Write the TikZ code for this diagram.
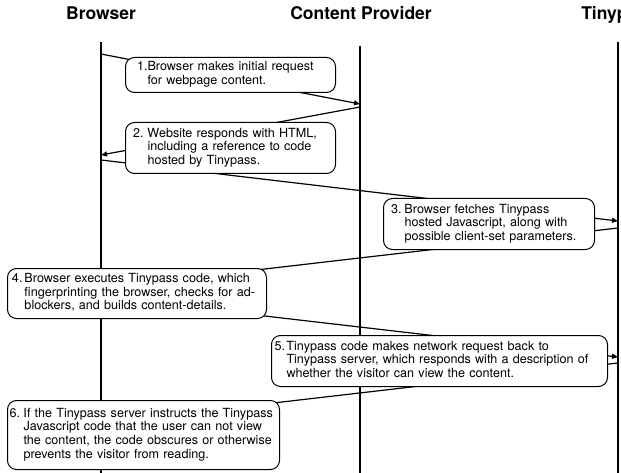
\documentclass[tikz,border=0pt]{standalone}
\usepackage{fontspec}
\setmainfont{TeX Gyre Heros}
\usetikzlibrary{arrows.meta}
\begin{document}
\begin{tikzpicture}[x=1pt,y=-1pt,
  lifeline/.style={line width=1.2pt},
  msg/.style={line width=1.2pt},
  msgarrow/.style={msg,-{Triangle[length=6pt,width=5pt]}},
  title/.style={font=\fontsize{17.5}{20}\selectfont\bfseries, anchor=base, inner sep=0pt},
  note/.style={draw, line width=1pt, rounded corners=9pt, fill=white, align=left,
    font=\fontsize{12.6}{13.6}\selectfont, inner ysep=0pt, anchor=north west}
]
\useasboundingbox (0,0) rectangle (621,473);

% titles
\node[title] (tb) at (101,20) {Browser};
\node[title] (tc) at (361,20) {Content Provider};
\node[title] (tt) at (619,20) {Tinypass};

% lifelines
\coordinate (b0) at (101,42);  \coordinate (b1) at (101,473);
\coordinate (c0) at (360,46);  \coordinate (c1) at (360,473);
\coordinate (t0) at (618,42);  \coordinate (t1) at (618,473);
\draw[lifeline] (b0) -- (b1);
\draw[lifeline] (c0) -- (c1);
\draw[lifeline] (t0) -- (t1);

% message end points
\coordinate (m1s) at (101,54);  \coordinate (m1e) at (360,104);
\coordinate (m2s) at (360,107); \coordinate (m2e) at (101,155);
\coordinate (m3s) at (101,160); \coordinate (m3e) at (618,221);
\coordinate (m4s) at (618,228); \coordinate (m4e) at (101,288);
\coordinate (m5s) at (101,297); \coordinate (m5e) at (618,357);
\coordinate (m6s) at (618,363); \coordinate (m6e) at (101,423);

\draw[msgarrow] (m1s) -- (m1e);
\draw[msgarrow] (m2s) -- (m2e);
\draw[msgarrow] (m3s) -- (m3e);
\draw[msgarrow] (m4s) -- (m4e);
\draw[msgarrow] (m5s) -- (m5e);
\draw[msgarrow] (m6s) -- (m6e);

% notes
\node[note, minimum width=210pt, minimum height=35pt, inner xsep=11.5pt, text width=187pt] (n1) at (125,57)
 {\begin{tabular}{@{}p{10.5pt}@{}l@{}}1.&Browser makes initial request\\ &for webpage content.\end{tabular}};
\node[note, minimum width=210pt, minimum height=51pt, inner xsep=7.5pt, text width=195pt] (n2) at (125,122)
 {\begin{tabular}{@{}p{14.5pt}@{}l@{}}2.&Website responds with HTML,\\ &including a reference to code\\ &hosted by Tinypass.\end{tabular}};
\node[note, minimum width=211pt, minimum height=51pt, inner xsep=7.5pt, text width=196pt] (n3) at (383,198)
 {\begin{tabular}{@{}p{13.5pt}@{}l@{}}3.&Browser fetches Tinypass\\ &hosted Javascript, along with\\ &possible client-set parameters.\end{tabular}};
\node[note, minimum width=259pt, minimum height=50pt, inner xsep=4.5pt, text width=250pt] (n4) at (7,268)
 {\begin{tabular}{@{}p{12.5pt}@{}l@{}}4.&Browser executes Tinypass code, which\\ &fingerprinting the browser, checks for ad-\\ &blockers, and builds content-details.\end{tabular}};
\node[note, minimum width=336pt, minimum height=51pt, inner xsep=3pt, text width=330pt] (n5) at (271,335)
 {\begin{tabular}{@{}p{12pt}@{}l@{}}5.&Tinypass code makes network request back to\\ &Tinypass server, which responds with a description of\\ &whether the visitor can view the content.\end{tabular}};
\node[note, minimum width=272pt, minimum height=69pt, inner xsep=2pt, text width=268pt] (n6) at (7,400)
 {\begin{tabular}{@{}p{14pt}@{}l@{}}6.&If the Tinypass server instructs the Tinypass\\ &Javascript code that the user can not view\\ &the content, the code obscures or otherwise\\ &prevents the visitor from reading.\end{tabular}};
\end{tikzpicture}
\end{document}
